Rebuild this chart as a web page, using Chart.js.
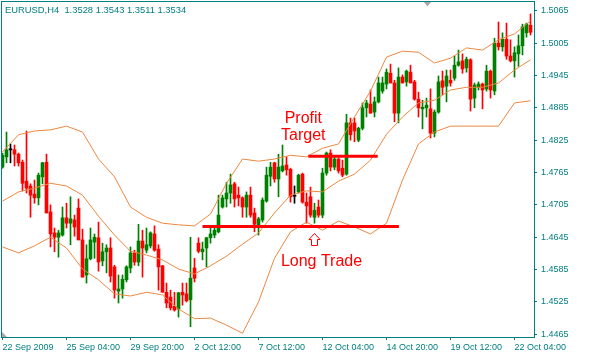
<!DOCTYPE html>
<html><head><meta charset="utf-8">
<script src="https://cdn.jsdelivr.net/npm/chart.js@4/dist/chart.umd.min.js"></script>
<style>html,body{margin:0;padding:0;background:#fff;overflow:hidden}canvas{display:block}</style>
</head><body>
<canvas id="c" width="613" height="356"></canvas>
<script>
// ---- data (EURUSD H4) ----
const opens = [
1.4775,1.4794,1.4807,1.4807,1.4799,1.4784,1.4749,1.4740,1.4725,1.4718,
1.4757,1.4784,1.4692,1.4653,1.4645,1.4649,1.4681,1.4671,1.4677,1.4699,
1.4640,1.4575,1.4605,1.4636,1.4644,1.4601,1.4618,1.4625,1.4590,1.4545,
1.4549,1.4566,1.4588,1.4616,1.4599,1.4638,1.4621,1.4629,1.4651,1.4623,
1.4592,1.4543,1.4534,1.4517,1.4512,1.4543,1.4540,1.4529,1.4588,1.4634,
1.4618,1.4625,1.4644,1.4649,1.4655,1.4701,1.4716,1.4727,1.4744,1.4723,
1.4718,1.4701,1.4723,1.4690,1.4668,1.4677,1.4712,1.4758,1.4783,1.4753,
1.4768,1.4779,1.4771,1.4721,1.4729,1.4762,1.4710,1.4720,1.4682,1.4701,
1.4686,1.4764,1.4801,1.4775,1.4790,1.4773,1.4762,1.4857,1.4857,1.4825,
1.4847,1.4885,1.4892,1.4877,1.4896,1.4916,1.4929,1.4949,1.4931,1.4875,
1.4942,1.4933,1.4951,1.4933,1.4901,1.4883,1.4885,1.4883,1.4838,1.4877,
1.4935,1.4925,1.4936,1.4940,1.4964,1.4972,1.4959,1.4974,1.4903,1.4923,
1.4929,1.4920,1.4953,1.4916,1.5005,1.4998,1.5012,1.4981,1.4972,1.4985,
1.5000,1.5024,1.5038];
const highs = [
1.4801,1.4840,1.4818,1.4816,1.4801,1.4788,1.4842,1.4744,1.4751,1.4764,
1.4784,1.4799,1.4705,1.4662,1.4658,1.4701,1.4708,1.4720,1.4686,1.4716,
1.4660,1.4631,1.4662,1.4651,1.4673,1.4634,1.4631,1.4644,1.4593,1.4575,
1.4575,1.4592,1.4627,1.4621,1.4669,1.4658,1.4662,1.4655,1.4666,1.4631,
1.4593,1.4560,1.4547,1.4543,1.4543,1.4560,1.4560,1.4645,1.4606,1.4644,
1.4636,1.4645,1.4666,1.4662,1.4723,1.4723,1.4747,1.4762,1.4747,1.4738,
1.4720,1.4729,1.4738,1.4699,1.4682,1.4718,1.4775,1.4784,1.4784,1.4799,
1.4816,1.4794,1.4773,1.4740,1.4762,1.4764,1.4727,1.4738,1.4708,1.4714,
1.4773,1.4803,1.4807,1.4794,1.4792,1.4788,1.4873,1.4866,1.4866,1.4849,
1.4894,1.4899,1.4918,1.4905,1.4942,1.4942,1.4957,1.4966,1.4936,1.4959,
1.4946,1.4955,1.4964,1.4936,1.4914,1.4899,1.4903,1.4920,1.4881,1.4944,
1.4953,1.4955,1.4955,1.4981,1.4992,1.4985,1.4979,1.4976,1.4931,1.4933,
1.4931,1.4964,1.4955,1.5014,1.5044,1.5024,1.5042,1.5011,1.4998,1.5020,
1.5040,1.5042,1.5059];
const lows = [
1.4773,1.4783,1.4783,1.4777,1.4777,1.4731,1.4727,1.4682,1.4708,1.4705,
1.4744,1.4690,1.4627,1.4618,1.4608,1.4647,1.4662,1.4631,1.4647,1.4640,
1.4571,1.4560,1.4603,1.4606,1.4582,1.4592,1.4579,1.4562,1.4532,1.4523,
1.4532,1.4562,1.4579,1.4593,1.4592,1.4571,1.4616,1.4625,1.4619,1.4547,
1.4543,1.4514,1.4510,1.4508,1.4497,1.4519,1.4525,1.4479,1.4562,1.4616,
1.4603,1.4590,1.4634,1.4644,1.4653,1.4699,1.4701,1.4708,1.4701,1.4703,
1.4682,1.4682,1.4682,1.4655,1.4649,1.4673,1.4710,1.4740,1.4747,1.4720,
1.4766,1.4760,1.4710,1.4708,1.4727,1.4708,1.4671,1.4682,1.4671,1.4682,
1.4681,1.4760,1.4768,1.4770,1.4764,1.4757,1.4760,1.4825,1.4822,1.4822,
1.4844,1.4868,1.4875,1.4868,1.4894,1.4912,1.4920,1.4931,1.4859,1.4857,
1.4931,1.4925,1.4931,1.4899,1.4868,1.4846,1.4868,1.4829,1.4831,1.4875,
1.4909,1.4896,1.4925,1.4936,1.4962,1.4949,1.4951,1.4879,1.4885,1.4918,
1.4883,1.4916,1.4903,1.4909,1.4992,1.4990,1.4975,1.4970,1.4942,1.4962,
1.4983,1.5016,1.5020];
const closes = [
1.4797,1.4807,1.4807,1.4799,1.4783,1.4745,1.4736,1.4723,1.4718,1.4760,
1.4783,1.4690,1.4651,1.4645,1.4653,1.4681,1.4671,1.4679,1.4664,1.4640,
1.4571,1.4605,1.4640,1.4645,1.4599,1.4618,1.4625,1.4573,1.4547,1.4549,
1.4567,1.4590,1.4616,1.4599,1.4638,1.4625,1.4631,1.4653,1.4621,1.4590,
1.4543,1.4523,1.4514,1.4510,1.4542,1.4538,1.4527,1.4569,1.4569,1.4619,
1.4623,1.4644,1.4651,1.4658,1.4686,1.4718,1.4727,1.4742,1.4716,1.4718,
1.4701,1.4723,1.4686,1.4669,1.4679,1.4714,1.4760,1.4775,1.4753,1.4775,
1.4777,1.4770,1.4720,1.4721,1.4760,1.4710,1.4703,1.4686,1.4695,1.4686,
1.4764,1.4801,1.4775,1.4790,1.4768,1.4760,1.4857,1.4835,1.4842,1.4847,
1.4885,1.4894,1.4875,1.4896,1.4931,1.4931,1.4951,1.4931,1.4875,1.4942,
1.4931,1.4953,1.4931,1.4901,1.4885,1.4886,1.4890,1.4838,1.4877,1.4933,
1.4923,1.4944,1.4931,1.4964,1.4970,1.4957,1.4975,1.4901,1.4927,1.4929,
1.4918,1.4953,1.4918,1.5005,1.4998,1.5012,1.4981,1.4972,1.4987,1.5000,
1.5035,1.5040,1.5025];

// Bollinger bands, read every 4 bars
const bandBars = [0,4,8,12,16,20,24,28,32,36,40,44,48,52,56,60,64,68,72,76,80,84,88,92,96,100,104,108,112,116,120,124,128,132];
const upperBand = [1.4803,1.4835,1.4842,1.4844,1.4851,1.4840,1.4790,1.4757,1.4701,1.4682,1.4671,1.4668,1.4666,1.4688,1.4745,1.4790,1.4786,1.4790,1.4797,1.4794,1.4810,1.4818,1.4868,1.4916,1.4979,1.4990,1.4988,1.4968,1.4977,1.4996,1.4992,1.5011,1.5022,1.5046];
const middleBand = [1.4712,1.4729,1.4736,1.4745,1.4740,1.4723,1.4684,1.4649,1.4619,1.4612,1.4603,1.4586,1.4577,1.4592,1.4610,1.4632,1.4653,1.4690,1.4723,1.4731,1.4729,1.4749,1.4762,1.4788,1.4836,1.4868,1.4894,1.4899,1.4918,1.4923,1.4923,1.4931,1.4955,1.4974];
const lowerBand = [1.4627,1.4616,1.4629,1.4645,1.4625,1.4586,1.4566,1.4540,1.4536,1.4543,1.4538,1.4512,1.4494,1.4495,1.4482,1.4467,1.4525,1.4606,1.4655,1.4673,1.4658,1.4675,1.4664,1.4651,1.4671,1.4751,1.4818,1.4840,1.4851,1.4851,1.4851,1.4851,1.4894,1.4898];

// trade levels
const profitTarget = 1.4795;
const profitBars = [76.45, 93.8];
const longEntry = 1.4665;
const longBars = [50, 99.1];

// axis labels
const labelBars = [0,16,32,48,64,80,96,112,128];
const tickLabels = ['22 Sep 2009','25 Sep 04:00','29 Sep 20:00','2 Oct 12:00','7 Oct 12:00','12 Oct 04:00','14 Oct 20:00','19 Oct 12:00','22 Oct 04:00'];
const yTicks = [1.4465,1.4525,1.4585,1.4645,1.4705,1.4765,1.4825,1.4885,1.4945,1.5005,1.5065];

// annotation texts
const noteTexts = ['Profit','Target','Long Trade'];
const noteBars = [75.2, 75.2, 79.75];
const notePrices = [1.4856, 1.4825, 1.4591];
const arrowBar = 78, arrowPrice = 1.4652;
const titleText = 'EURUSD,H4  1.3528 1.3543 1.3511 1.3534';

// ---- styles ----
const TEAL = '#007f7f';
const FONT = '"Liberation Sans", Arial, sans-serif';
const BAND = '#ec8840';
const UP = '#008000', DOWN = '#ff0000', DOJI = '#000000';

const idx = opens.map((_, i) => i);
const colorOf = i => closes[i] > opens[i] ? UP : (closes[i] < opens[i] ? DOWN : DOJI);
const bodyData = idx.map(i => ({x: i, y: [Math.min(opens[i], closes[i]), Math.max(opens[i], closes[i])]}));
const wickData = idx.map(i => ({x: i, y: [lows[i], highs[i]]}));
const barColors = idx.map(colorOf);
const band = arr => bandBars.map((b, k) => ({x: b, y: arr[k]}));
const level = (bars, v) => bars.map(b => ({x: b, y: v}));

const lineStyle = (data, color, w) => ({type: 'line', data, borderColor: color, borderWidth: w,
  pointRadius: 0, tension: 0, fill: false, borderCapStyle: 'butt'});

const overlay = {
  id: 'overlay',
  afterDatasetsDraw(chart) {
    const {ctx, scales: {x, y}} = chart;
    ctx.save();
    ctx.fillStyle = '#ff0000';
    ctx.font = '16px ' + FONT;
    ctx.textAlign = 'center';
    ctx.textBaseline = 'alphabetic';
    noteTexts.forEach((t, k) => ctx.fillText(t, x.getPixelForValue(noteBars[k]), y.getPixelForValue(notePrices[k])));
    // hollow up arrow
    const px = Math.round(x.getPixelForValue(arrowBar) - 0.5) + 0.5;
    const py = Math.round(y.getPixelForValue(arrowPrice)) + 0.5;
    ctx.strokeStyle = '#ff0000';
    ctx.lineWidth = 1;
    ctx.beginPath();
    ctx.moveTo(px, py);
    ctx.lineTo(px + 5.5, py + 6);
    ctx.lineTo(px + 3, py + 6);
    ctx.lineTo(px + 3, py + 12);
    ctx.lineTo(px - 3, py + 12);
    ctx.lineTo(px - 3, py + 6);
    ctx.lineTo(px - 5.5, py + 6);
    ctx.closePath();
    ctx.stroke();
    ctx.restore();
  },
  afterDraw(chart) {
    const {ctx, chartArea: a} = chart;
    ctx.save();
    ctx.strokeStyle = TEAL;
    ctx.lineWidth = 1;
    ctx.strokeRect(1.5, 1.5, a.right - 1, a.bottom - 1);
    ctx.fillStyle = TEAL;
    ctx.font = '9.4px ' + FONT;
    ctx.textAlign = 'left';
    ctx.textBaseline = 'alphabetic';
    ctx.fillText(titleText, 5, 12.6);
    // small shift markers
    ctx.fillStyle = '#a8a8a8';
    ctx.beginPath(); ctx.moveTo(424, 2); ctx.lineTo(431, 2); ctx.lineTo(427.5, 6.5); ctx.closePath(); ctx.fill();
    ctx.beginPath(); ctx.moveTo(2, 332); ctx.lineTo(2, 337); ctx.lineTo(7, 337); ctx.closePath(); ctx.fill();
    ctx.restore();
  }
};

new Chart(document.getElementById('c'), {
  type: 'bar',
  data: {
    datasets: [
      lineStyle(level(profitBars, profitTarget), '#ff0000', 3),
      lineStyle(level(longBars, longEntry), '#ff0000', 3),
      lineStyle(band(upperBand), BAND, 1),
      lineStyle(band(middleBand), BAND, 1),
      lineStyle(band(lowerBand), BAND, 1),
      {type: 'bar', data: bodyData, backgroundColor: barColors, barThickness: 3, minBarLength: 1, grouped: false, borderWidth: 0},
      {type: 'bar', data: wickData, backgroundColor: barColors, barThickness: 1, grouped: false, borderWidth: 0}
    ]
  },
  options: {
    responsive: false,
    animation: false,
    events: [],
    layout: {padding: {left: 2, top: 1, right: 0, bottom: 0}},
    plugins: {legend: {display: false}, tooltip: {enabled: false}, title: {display: false}},
    scales: {
      x: {
        type: 'linear', position: 'bottom', offset: false,
        min: -0.125, max: 132.875,
        afterBuildTicks: s => { s.ticks = labelBars.map(v => ({value: v})); },
        afterFit: s => { s.height = 19; s.paddingLeft = 0; s.paddingRight = 0; },
        grid: {display: true, drawOnChartArea: false, drawTicks: true, tickLength: 3, color: TEAL, offset: false},
        border: {display: false},
        ticks: {autoSkip: false, maxRotation: 0, minRotation: 0, align: 'start', padding: 2, color: TEAL,
          font: {family: FONT, size: 9},
          callback: (v, k) => tickLabels[k]}
      },
      y: {
        type: 'linear', position: 'right',
        min: 1.4460, max: 1.5083,
        afterBuildTicks: s => { s.ticks = yTicks.map(v => ({value: v})); },
        afterFit: s => { s.width = 79; s.paddingTop = 0; s.paddingBottom = 0; },
        grid: {display: true, drawOnChartArea: false, drawTicks: true, tickLength: 3, color: TEAL},
        border: {display: false},
        ticks: {padding: 4, color: TEAL, font: {family: FONT, size: 9},
          callback: v => Number(v).toFixed(4)}
      }
    }
  },
  plugins: [overlay]
});
</script>
</body></html>
